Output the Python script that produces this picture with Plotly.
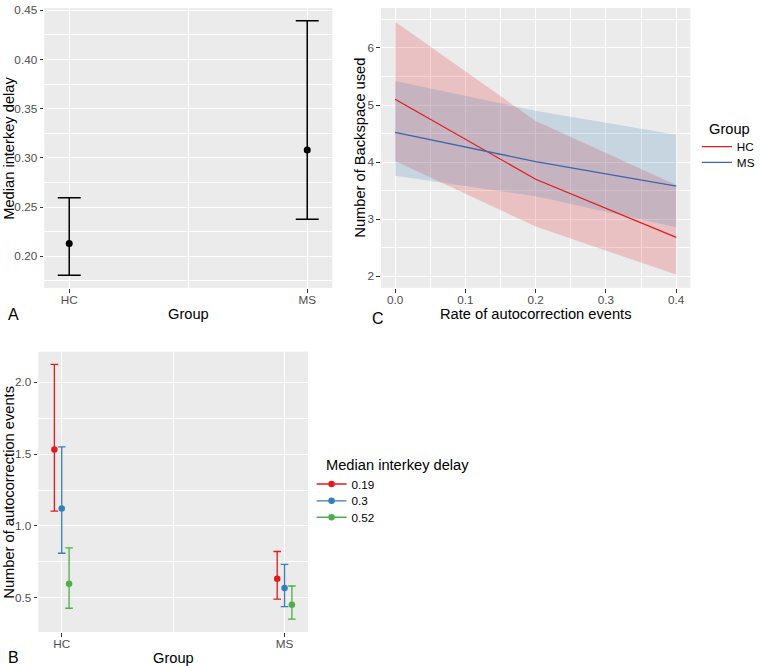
import plotly.graph_objects as go

# ---------------- data ----------------
# Panel A: median interkey delay by group
groups = ["HC", "MS"]
delay_mean = [0.2131, 0.3082]
delay_lower = [0.1809, 0.2376]
delay_upper = [0.2595, 0.4395]

# Panel C: number of backspace used vs rate of autocorrection events
rate_x = [0.0, 0.2, 0.4]
hc_bs_fit = [5.10, 3.70, 2.68]
hc_bs_lower = [4.02, 2.87, 2.03]
hc_bs_upper = [6.46, 4.72, 3.60]
ms_bs_fit = [4.52, 4.01, 3.58]
ms_bs_lower = [3.76, 3.40, 2.86]
ms_bs_upper = [5.42, 4.90, 4.48]

# Panel B: number of autocorrection events by group and median interkey delay
delay_levels = ["0.19", "0.3", "0.52"]
hc_ac_mean = [1.532, 1.122, 0.598]
hc_ac_lower = [1.103, 0.810, 0.427]
hc_ac_upper = [2.124, 1.551, 0.847]
ms_ac_mean = [0.633, 0.568, 0.451]
ms_ac_lower = [0.490, 0.439, 0.351]
ms_ac_upper = [0.822, 0.732, 0.582]

# ---------------- style ----------------
W, H = 760, 666
FONT = "Arial, Liberation Sans, Helvetica, sans-serif"
RED, BLUE, GREEN = "#E41A1C", "#377EB8", "#4DAF4A"
C_BLUE_LINE = "#3A66AA"
level_colors = [RED, BLUE, GREEN]
TICK = 11.73
TITLE = 14.67


def px_x(v):
    return v / W


def px_y(v):
    return 1 - v / H


fig = go.Figure()

# ---- Panel A ----
fig.add_trace(go.Scatter(
    x=[0, 1], y=delay_mean, mode="markers",
    marker=dict(color="black", size=7),
    error_y=dict(type="data", symmetric=False,
                 array=[u - m for u, m in zip(delay_upper, delay_mean)],
                 arrayminus=[m - l for m, l in zip(delay_mean, delay_lower)],
                 color="black", thickness=1.5, width=11.5),
    showlegend=False, xaxis="x", yaxis="y", hoverinfo="skip"))

# ---- Panel C ----
for lo, hi, rgba in [
    (hc_bs_lower, hc_bs_upper, "rgba(228,26,28,0.2)"),
    (ms_bs_lower, ms_bs_upper, "rgba(55,126,184,0.2)"),
]:
    fig.add_trace(go.Scatter(
        x=rate_x + rate_x[::-1], y=hi + lo[::-1], fill="toself",
        fillcolor=rgba, line=dict(width=0), mode="lines",
        showlegend=False, xaxis="x2", yaxis="y2", hoverinfo="skip"))
for fit, col, name, lg in [(hc_bs_fit, RED, "HC", "legend"),
                           (ms_bs_fit, C_BLUE_LINE, "MS", "legend3")]:
    fig.add_trace(go.Scatter(
        x=rate_x, y=fit, mode="lines", line=dict(color=col, width=1.3),
        name=name, legend=lg, xaxis="x2", yaxis="y2"))

# ---- Panel B ----
dodge = 0.033
b_legends = ["legend2", "legend4", "legend5"]
for gi, (means, lows, highs) in enumerate([
    (hc_ac_mean, hc_ac_lower, hc_ac_upper),
    (ms_ac_mean, ms_ac_lower, ms_ac_upper),
]):
    for li, lvl in enumerate(delay_levels):
        m, l, u = means[li], lows[li], highs[li]
        fig.add_trace(go.Scatter(
            x=[gi + (li - 1) * dodge], y=[m],
            mode="lines+markers",
            marker=dict(color=level_colors[li], size=6.5),
            line=dict(color=level_colors[li], width=1.3),
            error_y=dict(type="data", symmetric=False, array=[u - m],
                         arrayminus=[m - l], color=level_colors[li],
                         thickness=1.3, width=3.8),
            name=lvl, legendgroup=lvl, showlegend=(gi == 0),
            legend=b_legends[li], xaxis="x3", yaxis="y3"))

# ---------------- axes ----------------
def axis_style(**kw):
    d = dict(showgrid=True, gridcolor="white", gridwidth=1.07,
             zeroline=False, showline=False, ticks="outside",
             ticklen=3.7, tickwidth=1.07, tickcolor="#333333",
             tickfont=dict(size=TICK, color="#4D4D4D", family=FONT),
             ticklabeloverflow="allow", fixedrange=True)
    d.update(kw)
    return d


def minor(vals):
    return dict(showgrid=True, gridcolor="white", gridwidth=0.53,
                tickmode="array", tickvals=vals, ticks="")


def leg(x, y):
    return dict(x=px_x(x), y=px_y(y), xanchor="left", yanchor="top",
                bgcolor="rgba(0,0,0,0)", font=dict(size=TICK, family=FONT),
                itemwidth=30, tracegroupgap=0)


fig.update_layout(
    width=W, height=H,
    margin=dict(l=0, r=0, t=0, b=0),
    paper_bgcolor="white", plot_bgcolor="#EBEBEB",
    font=dict(family=FONT, color="black"),
    xaxis=axis_style(domain=[px_x(45), px_x(338)], range=[-0.105, 1.105],
                     tickmode="array", tickvals=[0, 1], ticktext=groups,
                     ticklabelstandoff=-3,
                     minor=minor([0.5]), anchor="y"),
    yaxis=axis_style(domain=[px_y(285), px_y(3)], range=[0.168, 0.4524],
                     tickmode="array",
                     tickvals=[0.20, 0.25, 0.30, 0.35, 0.40, 0.45],
                     tickformat=".2f",
                     minor=minor([0.175, 0.225, 0.275, 0.325, 0.375, 0.425]),
                     anchor="x"),
    xaxis2=axis_style(domain=[px_x(387.7), px_x(702.3)], range=[-0.02, 0.42],
                      tickmode="array", tickvals=[0, 0.1, 0.2, 0.3, 0.4],
                      tickformat=".1f", ticklabelstandoff=-3,
                      minor=minor([0.05, 0.15, 0.25, 0.35]), anchor="y2"),
    yaxis2=axis_style(domain=[px_y(285), px_y(3)], range=[1.797, 6.70],
                      tickmode="array", tickvals=[2, 3, 4, 5, 6],
                      minor=minor([2.5, 3.5, 4.5, 5.5, 6.5]), anchor="x2"),
    xaxis3=axis_style(domain=[px_x(39), px_x(313.3)], range=[-0.105, 1.105],
                      tickmode="array", tickvals=[0, 1], ticktext=groups,
                      ticklabelstandoff=-3,
                      minor=minor([0.5]), anchor="y3"),
    yaxis3=axis_style(domain=[px_y(631.7), px_y(349.3)], range=[0.262, 2.213],
                      tickmode="array", tickvals=[0.5, 1.0, 1.5, 2.0],
                      tickformat=".1f",
                      minor=minor([0.75, 1.25, 1.75]), anchor="x3"),
    legend=leg(709, 128),
    legend3=leg(709, 144),
    legend2=leg(317, 468),
    legend4=leg(317, 485),
    legend5=leg(317, 501.5),
)

# ---------------- text annotations ----------------
def note(text, x, y, size=TITLE, angle=0, xanchor="center"):
    fig.add_annotation(text=text, x=px_x(x), y=px_y(y), xref="paper",
                       yref="paper", showarrow=False, textangle=angle,
                       xanchor=xanchor, yanchor="middle",
                       font=dict(size=size, family=FONT, color="black"))


note("Median interkey delay", 9, 144, angle=-90)
note("Group", 191.5, 311.5)
note("Number of Backspace used", 366, 144, angle=-90)
note("Rate of autocorrection events", 545, 311.5)
note("Number of autocorrection events", 9, 490.5, angle=-90)
note("Group", 176.2, 657.5)
note("A", 13.3, 312, size=16)
note("C", 385, 315.5, size=16)
note("B", 13.5, 657.5, size=16)
note("Group", 719, 125, xanchor="left")
note("Median interkey delay", 330, 463, xanchor="left")

fig.write_html(
    "out.html",
    config={"displayModeBar": False},
    post_script="document.body.style.margin='0px';document.body.style.padding='0px';document.body.style.overflow='hidden';",
)
